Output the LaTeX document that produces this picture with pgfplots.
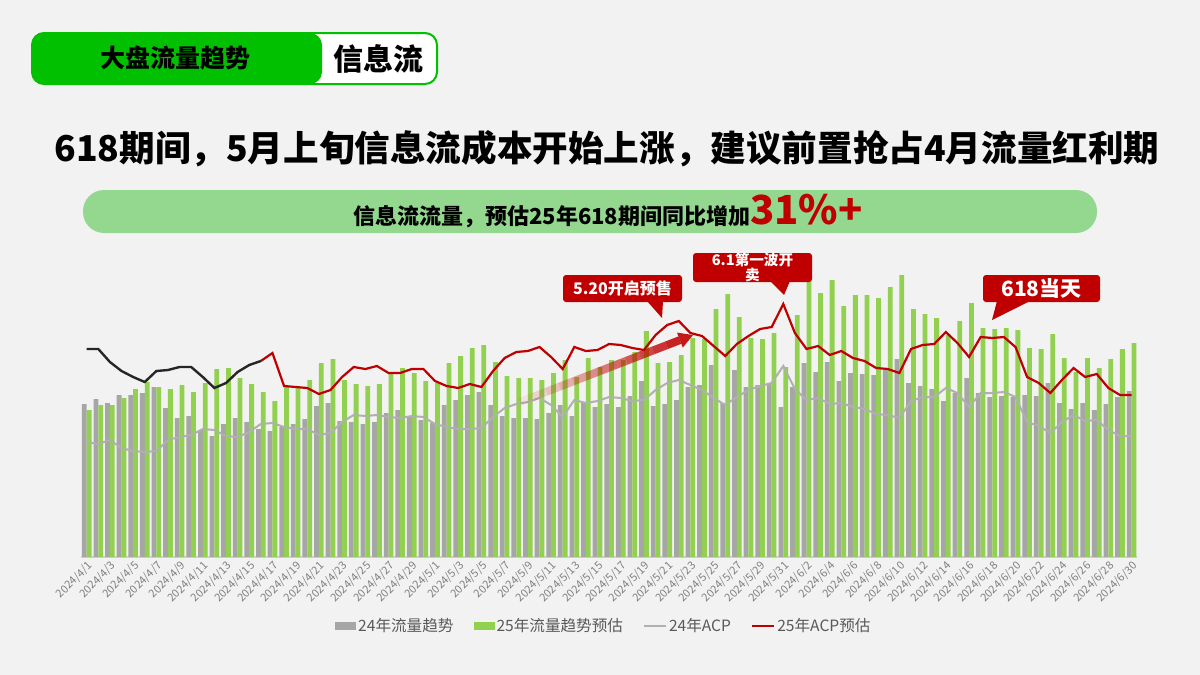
\documentclass[border=0pt]{standalone}
\usepackage{pgfplots}
\pgfplotsset{compat=1.18}
\usepackage{pgfplotstable}
\usepackage{fontspec}
\setmainfont{Noto Sans CJK SC}
\usetikzlibrary{calc}

\definecolor{bg}{HTML}{F2F2F2}
\definecolor{gbar}{HTML}{A6A6A6}
\definecolor{lgreen}{HTML}{92D050}
\definecolor{gline}{HTML}{B0B0B0}
\definecolor{dred}{HTML}{C00000}
\definecolor{tabgreen}{HTML}{00C000}
\definecolor{band}{HTML}{93D88E}
\definecolor{legtext}{HTML}{595959}

% d = day index from 2024/4/1, g = 25 flow, b = 24 flow, a = 24 ACP, r = 25 ACP est., k = 25 ACP (early part)
\pgfplotstableread{
d g b a r k
0 147 153 115 nan 208
1 152 158 113 nan 208
2 152 154 117 nan 195
3 159 162 109 nan 186
4 168 162 106 nan 180
5 175 164 105 nan 175
6 170 170 106 nan 186
7 168 149 117 nan 187
8 172 139 120 nan 190
9 165 141 122 nan 190
10 174 127 128 nan 180
11 188 121 127 nan 169
12 189 133 121 nan 174
13 179 139 120 nan 185
14 173 135 125 nan 192
15 165 128 133 196 196
16 156 126 134 204 nan
17 170 130 130 171 nan
18 169 133 128 170 nan
19 177 138 128 169 nan
20 194 151 122 163 nan
21 198 154 124 167 nan
22 177 136 135 180 nan
23 173 135 142 190 nan
24 171 133 141 188 nan
25 173 135 142 191 nan
26 184 144 140 184 nan
27 189 147 139 184 nan
28 184 140 141 188 nan
29 176 137 140 188 nan
30 174 134 133 176 nan
31 194 152 130 171 nan
32 201 157 128 169 nan
33 209 162 128 173 nan
34 212 165 129 170 nan
35 195 152 140 186 nan
36 181 141 149 199 nan
37 179 139 153 205 nan
38 179 139 155 206 nan
39 177 138 159 210 nan
40 184 144 152 200 nan
41 197 152 140 188 nan
42 180 141 157 210 nan
43 199 154 154 206 nan
44 190 150 156 207 nan
45 197 153 160 213 nan
46 197 150 159 212 nan
47 205 161 156 209 nan
48 226 176 157 207 nan
49 194 151 167 222 nan
50 195 153 174 232 nan
51 202 157 177 236 nan
52 219 170 172 224 nan
53 218 172 167 221 nan
54 248 192 159 211 nan
55 263 154 152 201 nan
56 240 187 160 213 nan
57 219 170 167 221 nan
58 218 172 171 228 nan
59 224 174 174 230 nan
60 190 150 191 253 nan
61 242 170 168 224 nan
62 277 194 157 208 nan
63 264 185 159 211 nan
64 277 195 153 202 nan
65 251 176 154 206 nan
66 262 184 150 199 nan
67 262 183 148 196 nan
68 259 182 143 189 nan
69 270 187 142 188 nan
70 282 198 139 184 nan
71 248 174 156 208 nan
72 243 171 160 212 nan
73 239 168 160 213 nan
74 222 156 169 225 nan
75 236 164 164 214 nan
76 254 179 150 200 nan
77 229 164 164 220 nan
78 228 160 164 219 nan
79 229 161 165 220 nan
80 227 160 160 210 nan
81 209 162 135 180 nan
82 208 161 131 174 nan
83 223 174 124 164 nan
84 199 154 135 177 nan
85 185 148 142 189 nan
86 199 154 136 180 nan
87 189 147 137 183 nan
88 198 153 127 169 nan
89 208 160 121 162 nan
90 214 166 121 162 nan
}\flowdata

\begin{document}
\begin{tikzpicture}
% decorations in pixel units, origin top-left
\begin{scope}[x=0.5pt,y=-0.5pt]
\fill[bg] (0,0) rectangle (1200,675);
\useasboundingbox (0,0) rectangle (1200,675);

% tab
\filldraw[fill=white, draw=tabgreen, line width=1pt, rounded corners=6pt] (32,33) rectangle (437,84);
\fill[tabgreen, rounded corners=6pt] (32,33) rectangle (322,84);
\node[font=\fontsize{12.5}{14}\selectfont\bfseries] at (175,58.5) {大盘流量趋势};
\node[font=\fontsize{15}{17}\selectfont\bfseries] at (378,58.5) {信息流};

% title
\node[font=\fontsize{17.8}{20}\selectfont\bfseries] at (607,149) {618期间，5月上旬信息流成本开始上涨，建议前置抢占4月流量红利期};

% band
\fill[band, rounded corners=10.5pt] (83,190) rectangle (1097,233);
\node[anchor=base] at (608,224) {{\fontsize{11}{13}\selectfont\bfseries 信息流流量，预估25年618期间同比增加}{\fontsize{20}{22}\selectfont\bfseries\color{dred}31\%+}};
\end{scope}

\begin{axis}[
  at={(40.45pt,-278.5pt)}, anchor=south west,
  scale only axis, width=528.25pt, height=150pt,
  xmin=-0.5, xmax=90.5, ymin=0, ymax=300,
  clip=false,
  axis y line=none,
  axis x line*=bottom,
  x axis line style={-, draw=black!18, line width=0.6pt},
  major tick length=0pt,
  xtick={0,2,...,90},
  xticklabels={2024/4/1,2024/4/3,2024/4/5,2024/4/7,2024/4/9,2024/4/11,2024/4/13,2024/4/15,2024/4/17,2024/4/19,2024/4/21,2024/4/23,2024/4/25,2024/4/27,2024/4/29,
    2024/5/1,2024/5/3,2024/5/5,2024/5/7,2024/5/9,2024/5/11,2024/5/13,2024/5/15,2024/5/17,2024/5/19,2024/5/21,2024/5/23,2024/5/25,2024/5/27,2024/5/29,2024/5/31,
    2024/6/2,2024/6/4,2024/6/6,2024/6/8,2024/6/10,2024/6/12,2024/6/14,2024/6/16,2024/6/18,2024/6/20,2024/6/22,2024/6/24,2024/6/26,2024/6/28,2024/6/30},
  xticklabel style={rotate=45, anchor=north east, font=\fontsize{5.5}{6}\selectfont, text=black!50, inner sep=1pt},
  legend style={at={(0.495,-0.23)}, anchor=center, draw=none, fill=none,
    legend columns=4, font=\fontsize{7.8}{9}\selectfont, text=legtext,
    /tikz/every even column/.append style={column sep=9pt},
    nodes={inner sep=1pt}},
]
\addplot[ybar, bar width=2.4pt, bar shift=-1.2pt, fill=gbar, draw=none,
  legend image code/.code={\fill[gbar] (0pt,-2pt) rectangle (10.5pt,2pt);}]
  table[x=d, y=b] {\flowdata};
\addplot[ybar, bar width=2.4pt, bar shift=1.2pt, fill=lgreen, draw=none,
  legend image code/.code={\fill[lgreen] (0pt,-2pt) rectangle (10.5pt,2pt);}]
  table[x=d, y=g] {\flowdata};
\addplot[gline, line width=1pt, sharp plot, no markers,
  legend image code/.code={\draw[gline, line width=1pt] (0pt,0pt) -- (11pt,0pt);}]
  table[x=d, y=a] {\flowdata};
\addplot[dred, line width=1.1pt, sharp plot, no markers,
  legend image code/.code={\draw[dred, line width=1.1pt] (0pt,0pt) -- (11pt,0pt);}]
  table[x=d, y=r] {\flowdata};
\addplot[black!85, line width=1.2pt, sharp plot, no markers, forget plot]
  table[x=d, y=k] {\flowdata};
\legend{24年流量趋势,25年流量趋势预估,24年ACP,25年ACP预估}
\end{axis}

\begin{scope}[x=0.5pt,y=-0.5pt]
% highlight arrow
\foreach \k [evaluate=\k as \op using 0.06+0.8*\k/11] in {0,...,11} {
  \draw[dred, line width=4pt, opacity=\op] ($(520,402)!{\k/12}!(679.9,340.1)$) -- ($(520,402)!{(\k+1)/12}!(679.9,340.1)$);
}
\fill[dred, opacity=0.9] (693,335) -- (682.8,347.6) -- (677.0,332.6) -- cycle;

% callouts
\fill[dred, rounded corners=1.5pt] (563,275) rectangle (682,302);
\fill[dred] (647,301) -- (663,301) -- (662,318) -- cycle;
\node[text=white, font=\fontsize{8}{9}\selectfont\bfseries] at (622.5,288.5) {5.20开启预售};

\fill[dred, rounded corners=1.5pt] (693,253) rectangle (812,282);
\fill[dred] (770,281) -- (790,281) -- (784,295) -- cycle;
\node[text=white, font=\fontsize{7.3}{7.8}\selectfont\bfseries, align=center] at (752.5,267.5) {6.1第一波开\\卖};

\fill[dred, rounded corners=1.5pt] (983,275) rectangle (1100,302);
\fill[dred] (997,301) -- (1030,301) -- (992,320) -- cycle;
\node[text=white, font=\fontsize{10.5}{12}\selectfont\bfseries] at (1041.5,288.5) {618当天};
\end{scope}
\end{tikzpicture}
\end{document}
